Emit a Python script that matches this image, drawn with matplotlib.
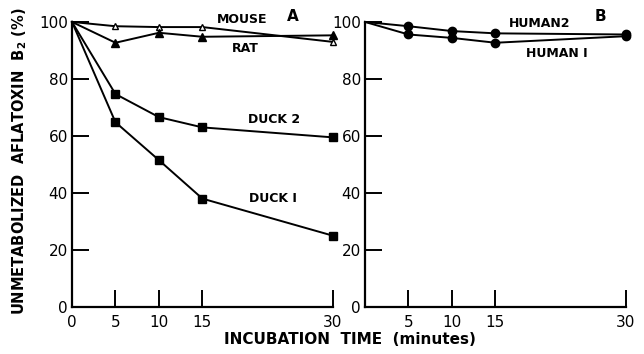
import numpy as np
import matplotlib
matplotlib.use('Agg')
import matplotlib.pyplot as plt

# incubation times (minutes)
t = [0, 5, 10, 15, 30]

# panel A
mouse = [100, 98.5, 98.2, 98.2, 93.0]
rat = [100, 92.7, 96.2, 94.8, 95.3]
duck2 = [100, 74.7, 66.6, 63.0, 59.5]
duck1 = [100, 64.8, 51.5, 38.0, 25.0]

# panel B
human2 = [100, 98.5, 96.8, 96.0, 95.6]
human1 = [100, 95.6, 94.4, 92.7, 95.0]

yticks = [0, 20, 40, 60, 80, 100]

plt.rcParams['font.family'] = 'DejaVu Sans'
fig = plt.figure(figsize=(6.44, 3.54), dpi=100)
axA = fig.add_axes([0.1118, 0.133, 0.405, 0.805])
axB = fig.add_axes([0.5668, 0.133, 0.405, 0.805])

lw = 1.4
style = dict(color='black', lw=lw, clip_on=False, zorder=3, markevery=[1, 2, 3, 4])

axA.plot(t, mouse, marker='^', ms=5, mfc='white', mec='black', mew=1.0, **style)
axA.plot(t, rat, marker='^', ms=6, mfc='black', mec='black', **style)
axA.plot(t, duck2, marker='s', ms=5.5, mfc='black', mec='black', **style)
axA.plot(t, duck1, marker='s', ms=5.5, mfc='black', mec='black', **style)

axB.plot(t, human2, marker='o', ms=6, mfc='black', mec='black', **style)
axB.plot(t, human1, marker='o', ms=6, mfc='black', mec='black', **style)

for ax in (axA, axB):
    ax.set_xlim(0, 30)
    ax.set_ylim(0, 100)
    ax.spines['top'].set_visible(False)
    ax.spines['right'].set_visible(False)
    ax.spines['left'].set_linewidth(1.6)
    ax.spines['bottom'].set_linewidth(1.6)
    ax.set_yticks(yticks)
    ax.tick_params(axis='both', direction='in', length=12, width=1.4,
                   labelsize=11, pad=3)
    ax.tick_params(axis='x', pad=6)

axA.set_xticks([0, 5, 10, 15, 30])
axA.set_xticklabels(['0', '5', '10', '15', '30'])
axB.set_xticks([5, 10, 15, 30])
axB.set_xticklabels(['5', '10', '15', '30'])

lab = dict(fontsize=9, fontweight='bold', ha='center', va='center')
axA.text(19.6, 100.9, 'MOUSE', **lab)
axA.text(19.9, 90.8, 'RAT', **lab)
axA.text(23.2, 65.7, 'DUCK 2', **lab)
axA.text(23.1, 38.1, 'DUCK I', **lab)
axA.text(25.4, 102.0, 'A', fontsize=11, fontweight='bold', ha='center', va='center')

axB.text(20.1, 99.5, 'HUMAN2', **lab)
axB.text(22.1, 89.0, 'HUMAN I', **lab)
axB.text(27.1, 102.0, 'B', fontsize=11, fontweight='bold', ha='center', va='center')

fig.text(0.031, 0.545, 'UNMETABOLIZED  AFLATOXIN  B$_\\mathbf{2}$ (%)', rotation=90,
         fontsize=10.5, fontweight='bold', ha='center', va='center')
fig.text(0.543, 0.04, 'INCUBATION  TIME  (minutes)', fontsize=11,
         fontweight='bold', ha='center', va='center')

fig.savefig('out.png', dpi=100)
